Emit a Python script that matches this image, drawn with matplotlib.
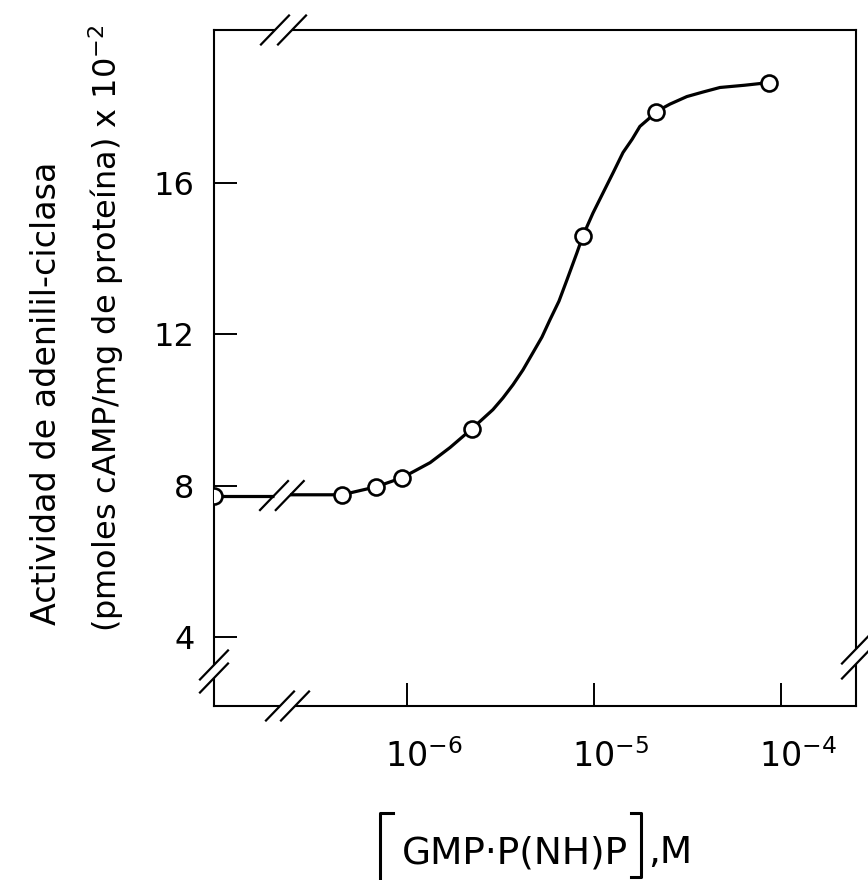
import matplotlib
matplotlib.use("Agg")
import matplotlib.pyplot as plt
from matplotlib.lines import Line2D
from matplotlib.ticker import NullLocator
from matplotlib.transforms import ScaledTranslation

plt.rcParams['font.family'] = ['DejaVu Sans']
plt.rcParams['mathtext.fontset'] = 'dejavusans'

# valores
control_y = 7.74                      # sin GMP-P(NH)P, dibujado sobre el eje
conc = [4.49e-7, 6.83e-7, 9.40e-7, 2.23e-6, 8.73e-6, 2.15e-5, 8.63e-5]
actividad = [7.76, 7.97, 8.21, 9.51, 14.61, 17.89, 18.66]

# curva trazada a mano en el original
corte_x = [1.95e-7, 2.37e-7]          # hueco de la linea en el corte
curva_x = [2.37e-7, 4.49e-7, 6.83e-7, 9.40e-7, 1.10e-6, 1.33e-6, 1.70e-6,
           2.23e-6, 2.88e-6, 3.26e-6, 3.69e-6, 4.17e-6, 4.72e-6, 5.27e-6,
           5.82e-6, 6.50e-6, 7.18e-6, 8.11e-6, 8.73e-6, 9.88e-6, 1.12e-5,
           1.27e-5, 1.43e-5, 1.60e-5, 1.76e-5, 1.95e-5, 2.15e-5, 2.55e-5,
           3.14e-5, 3.83e-5, 4.72e-5, 6.41e-5, 8.63e-5]
curva_y = [7.76, 7.76, 7.97, 8.21, 8.39, 8.61, 9.01,
           9.51, 10.01, 10.32, 10.67, 11.06, 11.52, 11.93,
           12.39, 12.88, 13.45, 14.16, 14.61, 15.21, 15.75,
           16.29, 16.81, 17.16, 17.50, 17.69, 17.89, 18.09,
           18.29, 18.41, 18.53, 18.59, 18.66]

yticks = [4, 8, 12, 16]
xticks = [1e-6, 1e-5, 1e-4]
xticklabels = [r'$10^{-6}$', r'$10^{-5}$', r'$10^{-4}$']

W, H = 868, 880
fig = plt.figure(figsize=(W / 100, H / 100), dpi=100)
ax = fig.add_axes([214 / W, 174 / H, 642 / W, 676 / H])
ax.set_xscale('log')
ax.set_xlim(9.29e-8, 2.52e-4)
ax.set_ylim(2.175, 20.05)

# curva
x0 = ax.get_xlim()[0]
ax.plot([x0, corte_x[0]], [control_y, control_y], color='black', lw=2.3,
        solid_capstyle='butt')
ax.plot(curva_x, curva_y, color='black', lw=2.3, solid_joinstyle='round',
        solid_capstyle='butt')

# puntos
ax.plot([x0], [control_y], 'o', ms=11.5, mfc='white', mec='black', mew=1.9,
        zorder=5)
ax.plot(conc, actividad, 'o', ms=11.5, mfc='white', mec='black', mew=1.9,
        zorder=5, clip_on=False)

for s in ax.spines.values():
    s.set_linewidth(1.5)

ax.set_yticks(yticks)
ax.set_yticklabels([str(v) for v in yticks])
ax.set_xticks(xticks)
ax.set_xticklabels(xticklabels)
ax.xaxis.set_minor_locator(NullLocator())
ax.tick_params(axis='both', direction='in', length=16.5, width=1.4,
               top=False, right=False)
ax.tick_params(axis='y', labelsize=23, pad=14)
ax.tick_params(axis='x', labelsize=24, pad=24)
for lab in ax.get_xticklabels():
    lab.set_transform(lab.get_transform() +
                      ScaledTranslation(0.17, 0, fig.dpi_scale_trans))

# marcas de corte
dx, dy = 28 / 642, 29 / 676


def corte(cx, cy):
    ax.plot([cx - dx / 2, cx + dx / 2], [cy - dy / 2, cy + dy / 2],
            color='black', lw=1.6, transform=ax.transAxes, clip_on=False,
            zorder=6)


def hueco(xs, ys):
    ax.plot(xs, ys, color='white', lw=4, transform=ax.transAxes,
            clip_on=False, zorder=4, solid_capstyle='butt')


hueco([0.095, 0.1215], [1, 1])
corte(0.095, 1.0)
corte(0.1215, 1.0)

hueco([0.1028, 0.1262], [0, 0])
corte(0.1028, 0.0)
corte(0.1262, 0.0)

hueco([0, 0], [0.0414, 0.0607])
corte(0.0, 0.0607)
corte(0.0, 0.0414)

hueco([1, 1], [0.0621, 0.0843])
corte(1.0, 0.0843)
corte(1.0, 0.0621)

y_lo, y_hi = ax.get_ylim()
yc = (control_y - y_lo) / (y_hi - y_lo)
corte(0.0935, yc)
corte(0.118, yc)

# titulo del eje y (dos lineas)
fig.text(56 / W, 1 - 625 / H, 'Actividad de adenilil-ciclasa', rotation=90,
         rotation_mode='anchor', ha='left', va='baseline', fontsize=24)
fig.text(117 / W, 1 - 632 / H,
         r'(pmoles cAMP/mg de proteína) x 10$^{-2}$', rotation=90,
         rotation_mode='anchor', ha='left', va='baseline', fontsize=23)

# titulo del eje x con corchetes
fig.text(515 / W, 1 - 863 / H, 'GMP\u00b7P(NH)P', ha='center',
         va='baseline', fontsize=27)
fig.text(648 / W, 1 - 863 / H, ',M', ha='left', va='baseline', fontsize=27)
for xs, ys in [([393, 380, 380], [813, 813, 880]),
               ([631, 641, 641, 631], [813, 813, 877, 877])]:
    fig.add_artist(Line2D([x / W for x in xs], [1 - y / H for y in ys],
                          color='black', lw=2.2, transform=fig.transFigure))

fig.savefig('out.png', dpi=100, facecolor='white')
